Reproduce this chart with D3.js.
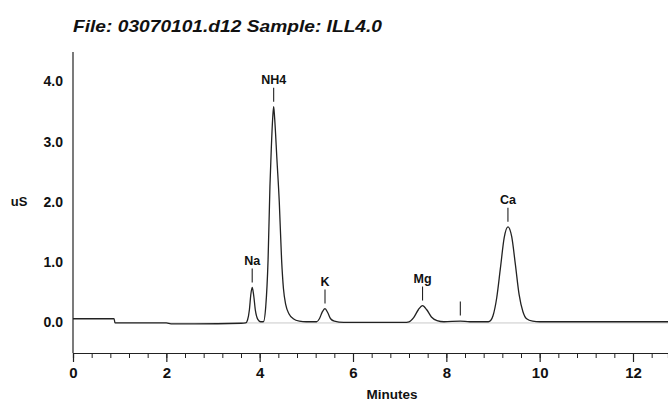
<!DOCTYPE html>
<html><head><meta charset="utf-8">
<script src="https://cdn.jsdelivr.net/npm/d3@7"></script>
<style>body{margin:0;background:#fff}svg{display:block}text{font-family:"Liberation Sans",Arial,sans-serif;font-weight:bold;fill:#111}</style>
</head><body>
<svg id="c" width="668" height="408"></svg>
<script>
const title = "File: 03070101.d12 Sample: ILL4.0";
const yTicks = [0, 1, 2, 3, 4];
const xTicks = [0, 2, 4, 6, 8, 10, 12];
const times = [0, 0.88, 0.9, 2.0, 2.1, 2.6, 3.6, 3.70, 3.74, 3.78, 3.81, 3.84, 3.87, 3.91, 3.96, 4.02, 4.08, 4.13, 4.18, 4.22, 4.25, 4.28, 4.30, 4.32, 4.37, 4.42, 4.47, 4.51, 4.56, 4.63, 4.72, 4.85, 5.0, 5.2, 5.22, 5.28, 5.34, 5.40, 5.46, 5.52, 5.6, 5.8, 7.1, 7.2, 7.3, 7.4, 7.49, 7.58, 7.68, 7.8, 7.95, 8.3, 8.5, 8.9, 8.95, 9.0, 9.08, 9.16, 9.24, 9.32, 9.40, 9.48, 9.56, 9.64, 9.72, 9.85, 10.0, 12.75];
const signal = [0.05, 0.05, -0.02, -0.02, -0.035, -0.035, -0.025, -0.02, 0.03, 0.20, 0.45, 0.57, 0.45, 0.18, 0.04, 0.0, 0.0, 0.25, 1.03, 2.25, 2.9, 3.4, 3.58, 3.4, 2.7, 2.0, 1.03, 0.55, 0.28, 0.13, 0.05, 0.01, 0.0, 0.0, 0.0, 0.05, 0.16, 0.22, 0.15, 0.05, 0.01, -0.01, -0.01, 0.0, 0.07, 0.2, 0.27, 0.2, 0.08, 0.02, 0.0, 0.01, 0.0, 0.0, 0.02, 0.1, 0.4, 0.9, 1.4, 1.58, 1.42, 0.95, 0.45, 0.17, 0.05, 0.01, 0.0, 0.0];
const peakNames = ["Na", "NH4", "K", "Mg", "", "Ca"];
const peakTimes = [3.84, 4.30, 5.40, 7.49, 8.30, 9.32];
const peakHeights = [0.57, 3.58, 0.22, 0.27, 0.02, 1.58];

const svg = d3.select("#c");
const x = d3.scaleLinear().domain([0, 12.75]).range([73, 668]);
const y = d3.scaleLinear().domain([-0.52, 4.49]).range([353, 52]);

svg.append("text").attr("x", 73).attr("y", 32).attr("font-size", 17).attr("font-style", "italic")
  .attr("textLength", 309).attr("lengthAdjust", "spacingAndGlyphs").text(title);

// y axis
svg.append("line").attr("x1", 73).attr("x2", 73).attr("y1", 52).attr("y2", 353).attr("stroke", "#222").attr("stroke-width", 1.2);
svg.selectAll(".yl").data(yTicks).enter().append("text").attr("x", 63).attr("y", d => y(d) + 5)
  .attr("text-anchor", "end").attr("font-size", 14).text(d => d.toFixed(1));
svg.append("text").attr("x", 19).attr("y", 206).attr("text-anchor", "middle").attr("font-size", 13).text("uS");

// x axis
const xa = svg.append("g").attr("transform", "translate(0,353)")
  .call(d3.axisBottom(x).tickValues(d3.range(0, 12.75, 0.4)).tickSize(5).tickFormat(""));
xa.select(".domain").attr("stroke", "#222").attr("stroke-width", 1.2);
xa.selectAll(".tick line").attr("stroke", "#222");
const xb = svg.append("g").attr("transform", "translate(0,353)")
  .call(d3.axisBottom(x).tickValues(xTicks).tickSize(9).tickPadding(5).tickFormat(d3.format("d")));
xb.select(".domain").remove();
xb.selectAll(".tick line").attr("stroke", "#222").attr("stroke-width", 1.2);
xb.selectAll(".tick text").attr("font-size", 15).attr("font-family", "Liberation Sans, Arial, sans-serif").attr("font-weight", "bold").attr("fill", "#111");
svg.append("text").attr("x", 392).attr("y", 399).attr("text-anchor", "middle").attr("font-size", 13.5).text("Minutes");

// integration baseline
svg.append("line").attr("x1", x(0.9)).attr("x2", x(12.75)).attr("y1", y(-0.02)).attr("y2", y(-0.02)).attr("stroke", "#bbb").attr("stroke-width", 0.8);

// trace
const pts = times.map((t, i) => [t, signal[i]]);
svg.append("path").datum(pts).attr("fill", "none").attr("stroke", "#222").attr("stroke-width", 1.3)
  .attr("d", d3.line().x(d => x(d[0])).y(d => y(d[1])).curve(d3.curveMonotoneX));

// peak labels
peakTimes.forEach((t, i) => {
  const top = y(peakHeights[i]) - 5;
  svg.append("line").attr("x1", x(t)).attr("x2", x(t)).attr("y1", top).attr("y2", top - 14).attr("stroke", "#222").attr("stroke-width", 1.1);
  if (peakNames[i]) svg.append("text").attr("x", x(t)).attr("y", top - 18).attr("text-anchor", "middle").attr("font-size", 12.5).text(peakNames[i]);
});
</script>
</body></html>
